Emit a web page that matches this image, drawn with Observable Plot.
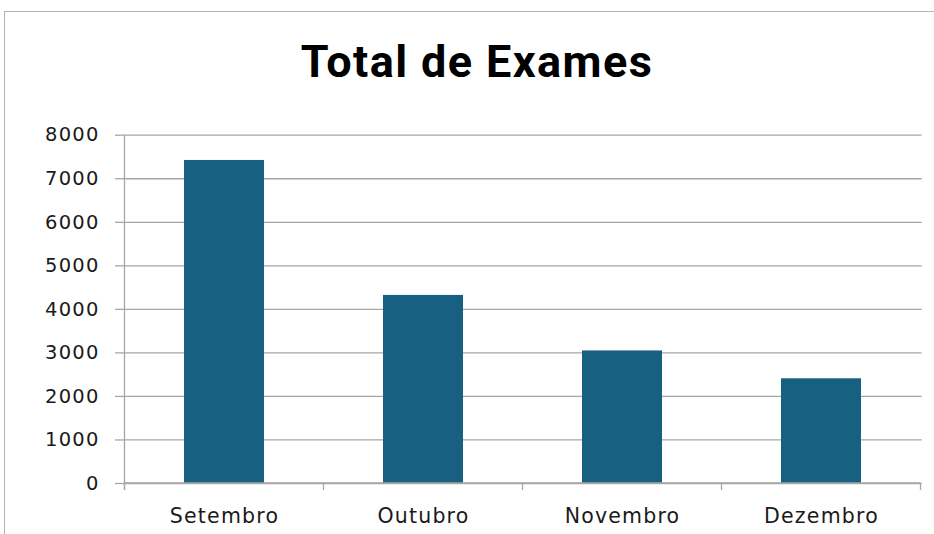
<!DOCTYPE html>
<html><head><meta charset="utf-8">
<script src="https://cdn.jsdelivr.net/npm/d3@7"></script>
<script src="https://cdn.jsdelivr.net/npm/@observablehq/plot@0.6"></script>
<style>
body{margin:0;background:#fff;width:934px;height:534px;overflow:hidden;position:relative;}
#frame{position:absolute;left:4px;top:11px;width:940px;height:530px;border-left:1px solid #b3b3b3;border-top:1px solid #b3b3b3;pointer-events:none;}
#title{height:110px;box-sizing:border-box;padding-top:39px;padding-left:20px;text-align:center;font:700 45px/45px Roboto, sans-serif;letter-spacing:1.4px;color:#000;white-space:nowrap;}
#chart svg{display:block;}
</style></head><body>
<div id="frame"></div>
<div id="title">Total de Exames</div>
<div id="chart"></div>
<script>
const months = ["Setembro", "Outubro", "Novembro", "Dezembro"];
const totals = [7420, 4320, 3045, 2405];
const yTicks = [0, 1000, 2000, 3000, 4000, 5000, 6000, 7000, 8000];

const data = months.map((m, i) => ({month: m, total: totals[i]}));
const axisColor = "#a6a6a6";
const barColor = "#176082";

function excelAxes(index, scales, values, dims) {
  const x = scales.x, y = scales.y;
  const step = x.step(), bw = x.bandwidth();
  const edges = months.map(m => x(m) - (step - bw) / 2);
  edges.push(x(months[months.length - 1]) + bw + (step - bw) / 2);
  const y0 = y(0), yTop = y(yTicks[yTicks.length - 1]);
  const g = d3.create("svg:g").attr("stroke", axisColor).attr("stroke-width", 1.3).attr("fill", "none");
  g.append("line").attr("x1", edges[0]).attr("x2", edges[0]).attr("y1", yTop).attr("y2", y0 + 7);
  g.append("line").attr("x1", edges[0]).attr("x2", edges[edges.length - 1]).attr("y1", y0).attr("y2", y0);
  edges.forEach(e => g.append("line").attr("x1", e).attr("x2", e).attr("y1", y0).attr("y2", y0 + 7));
  return g.node();
}

const plot = Plot.plot({
  width: 934, height: 424,
  marginLeft: 123, marginRight: 12.3, marginTop: 24.7, marginBottom: 51,
  style: {background: "transparent", fontFamily: "'DejaVu Sans', sans-serif", color: "#1a1a1a"},
  x: {domain: months, paddingInner: 0.6, paddingOuter: 0.3, label: null},
  y: {domain: [0, 8000], label: null},
  marks: [
    Plot.gridY(yTicks, {stroke: axisColor, strokeOpacity: 1, strokeWidth: 1.3}),
    Plot.barY(data, {x: "month", y: "total", fill: barColor}),
    excelAxes,
    Plot.axisY(yTicks, {tickSize: 8, tickPadding: 16, tickFormat: d => String(d), stroke: axisColor, strokeOpacity: 1, strokeWidth: 1.3, fontSize: 19.5, fill: "#1a1a1a", label: null}),
    Plot.axisX({tickSize: 0, tickPadding: 25, fontSize: 20.5, fill: "#1a1a1a", label: null})
  ]
});
document.getElementById("chart").appendChild(plot);
d3.select(plot).selectAll('g[aria-label="y-axis tick label"] text').style("letter-spacing", "1.2px");
d3.select(plot).selectAll('g[aria-label="x-axis tick label"] text').style("letter-spacing", "1.2px");
</script>
</body></html>
